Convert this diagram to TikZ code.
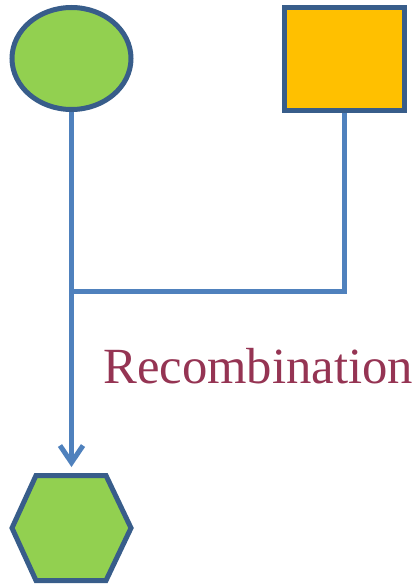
\documentclass[tikz,border=0pt]{standalone}
\usepackage{fontspec}
\setmainfont{Liberation Serif}
\usetikzlibrary{shapes.geometric,arrows.meta}
\definecolor{edgeblue}{RGB}{56,93,138}
\definecolor{linkblue}{RGB}{79,129,189}
\definecolor{leafgreen}{RGB}{146,208,80}
\definecolor{amber}{RGB}{255,192,0}
\definecolor{wine}{RGB}{149,52,83}
\tikzset{
  shapeborder/.style={draw=edgeblue, line width=5pt, inner sep=0pt},
  link/.style={draw=linkblue, line width=5pt},
}
\begin{document}
\begin{tikzpicture}[x=1pt,y=-1pt]
  \useasboundingbox (0,0) rectangle (418,586);
  % parents
  \node[shapeborder, ellipse, fill=leafgreen, minimum width=119pt, minimum height=102pt] (mother) at (71.5,58.5) {};
  \node[shapeborder, rectangle, fill=amber, minimum width=120pt, minimum height=103pt] (father) at (344.5,59) {};
  % offspring
  \draw[shapeborder, fill=leafgreen] (36,475.5) -- (106,475.5) -- (131,528) -- (106,580.5) -- (36,580.5) -- (12,528) -- cycle;
  \coordinate (child) at (mother.south |- 0,467);
  \coordinate (merge) at (mother.south |- 0,291);
  % connectors
  \draw[link] (father.south) |- (merge);
  \draw[link, -{Straight Barb[length=17pt,width=23pt]}] (mother.south) -- (child);
  \node[anchor=base west, inner sep=0pt, text=wine, font=\fontsize{50.7}{60}\selectfont] (label) at (103,383) {Recombination};
\end{tikzpicture}
\end{document}
